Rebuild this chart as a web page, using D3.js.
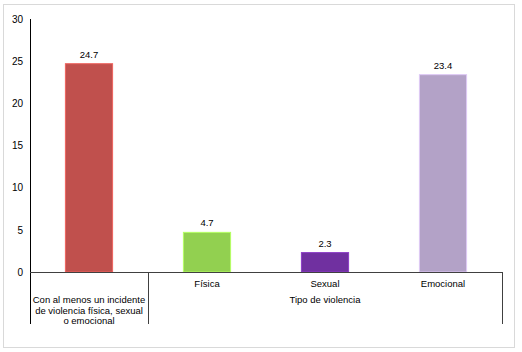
<!DOCTYPE html>
<html>
<head>
<meta charset="utf-8">
<script src="https://cdn.jsdelivr.net/npm/d3@7"></script>
<style>
  body { margin: 0; background: #fff; }
  text { font-family: "Liberation Sans", Arial, sans-serif; fill: #000; }
</style>
</head>
<body>
<div class="svgtarget"></div>
<script>
// chart data
var categories = ["total", "Física", "Sexual", "Emocional"];
var values = [24.7, 4.7, 2.3, 23.4];
var barColors = ["#c0504d", "#92d050", "#7030a0", "#b3a2c7"];
var firstLabel = ["Con al menos un incidente", "de violencia física, sexual", "o emocional"];
var groupLabel = "Tipo de violencia";
var yTicks = [0, 5, 10, 15, 20, 25, 30];

var W = 522, H = 352;
var plotLeft = 30, plotRight = 502, plotTop = 19, plotBase = 272, plotBottom = 324;

var svg = d3.select(".svgtarget").append("svg")
    .attr("width", W)
    .attr("height", H);

// outer frame
svg.append("rect")
   .attr("x", 3.5).attr("y", 4.5)
   .attr("width", 511).attr("height", 343)
   .attr("fill", "#fff")
   .attr("stroke", "#d9d9d9");

var x = d3.scaleBand()
    .domain(categories)
    .range([plotLeft, plotRight])
    .paddingInner(0.6)
    .paddingOuter(0.3);

var y = d3.scaleLinear()
    .domain([0, 30])
    .range([plotBase, plotTop]);

// y axis
var yAxis = svg.append("g")
    .attr("transform", "translate(" + plotLeft + ",0)")
    .call(d3.axisLeft(y).tickValues(yTicks).tickSize(0).tickPadding(7));
yAxis.select(".domain").remove();
yAxis.selectAll("text").attr("font-size", 10).style("font-family", "Liberation Sans, Arial, sans-serif");

svg.append("line")
   .attr("x1", plotLeft + 0.5).attr("x2", plotLeft + 0.5)
   .attr("y1", y(30)).attr("y2", plotBottom)
   .attr("stroke", "#000");

// bars
svg.selectAll("rect.bar").data(values)
   .enter().append("rect")
   .attr("class", "bar")
   .attr("x", function(d, i) { return x(categories[i]); })
   .attr("width", x.bandwidth())
   .attr("y", function(d) { return y(d); })
   .attr("height", function(d) { return y(0) - y(d); })
   .attr("fill", function(d, i) { return barColors[i]; })
   .attr("stroke", function(d, i) { return d3.color(barColors[i]).brighter(0.6); })
   .attr("stroke-width", 1);

// value labels
svg.selectAll("text.val").data(values)
   .enter().append("text")
   .attr("class", "val")
   .attr("x", function(d, i) { return x(categories[i]) + x.bandwidth() / 2; })
   .attr("y", function(d) { return y(d) - 6; })
   .attr("text-anchor", "middle")
   .attr("font-size", 9.5)
   .text(function(d) { return d.toFixed(1); });

// x axis baseline and dividers
svg.append("line")
   .attr("x1", plotLeft).attr("x2", plotRight + 0.5)
   .attr("y1", plotBase + 0.5).attr("y2", plotBase + 0.5)
   .attr("stroke", "#404040");

var sep = x("Física") - x.step() * x.paddingInner() / 2;
[sep, plotRight].forEach(function(px) {
    svg.append("line")
       .attr("x1", Math.round(px) + 0.5).attr("x2", Math.round(px) + 0.5)
       .attr("y1", plotBase).attr("y2", plotBottom)
       .attr("stroke", "#404040");
});

// category labels
svg.selectAll("text.cat").data(categories.slice(1))
   .enter().append("text")
   .attr("class", "cat")
   .attr("x", function(d) { return x(d) + x.bandwidth() / 2; })
   .attr("y", 287)
   .attr("text-anchor", "middle")
   .attr("font-size", 9.5)
   .text(function(d) { return d; });

svg.append("text")
   .attr("x", (sep + plotRight) / 2)
   .attr("y", 303)
   .attr("text-anchor", "middle")
   .attr("font-size", 9.5)
   .text(groupLabel);

svg.selectAll("text.first").data(firstLabel)
   .enter().append("text")
   .attr("class", "first")
   .attr("x", x(categories[0]) + x.bandwidth() / 2)
   .attr("y", function(d, i) { return 303 + i * 10.5; })
   .attr("text-anchor", "middle")
   .attr("font-size", 9.5)
   .text(function(d) { return d; });
</script>
</body>
</html>
